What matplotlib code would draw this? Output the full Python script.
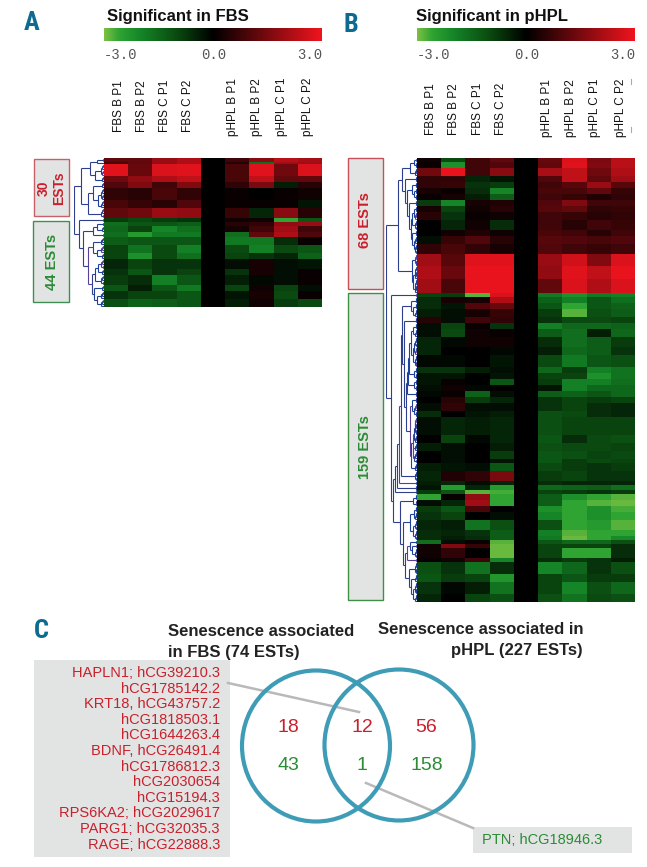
import numpy as np
import matplotlib
matplotlib.use("Agg")
import matplotlib.pyplot as plt
from matplotlib.colors import LinearSegmentedColormap
from matplotlib.collections import LineCollection
from matplotlib.patches import Rectangle, Ellipse

W, H = 647, 867
SANS = ["Liberation Sans", "DejaVu Sans"]
plt.rcParams["font.family"] = SANS

# ---------- data ----------
fbs_cols = ["FBS B P1", "FBS B P2", "FBS C P1", "FBS C P2"]
hpl_cols = ["pHPL B P1", "pHPL B P2", "pHPL C P1", "pHPL C P2"]

a_counts = [2, 1, 6, 3, 3, 6, 4, 5,
            2, 2, 3, 2, 4, 4, 3, 5, 3, 5, 3, 4, 4]
a_values = [
    [1.2, 1.2, 1.9, 2.2, 0.8, 1.7, 2.3, 2.1],
    [0.9, 1.2, 1.9, 2.2, 0.5, -1.6, 2.0, 2.0],
    [2.8, 1.3, 2.7, 2.8, 0.9, 2.8, 1.4, 2.7],
    [1.4, 1.8, 2.2, 2.4, 0.9, 2.4, 1.2, 1.2],
    [1.0, 1.6, 0.8, 1.6, 0.6, 1.5, -0.4, 0.5],
    [0.6, 0.5, 0.9, 0.6, 0.1, 0.0, 0.1, 0.2],
    [0.9, 0.7, 0.5, 1.0, 0.1, 0.1, 0.1, -0.3],
    [1.2, 1.4, 1.9, 1.8, 0.7, -0.5, 1.7, 0.5],
    [-0.8, -1.0, -0.8, -0.7, 0.2, 0.2, -2.6, -1.2],
    [-1.6, -1.2, -1.2, -1.3, 0.5, 0.6, 1.8, 1.9],
    [-1.5, -0.9, -2.0, -1.6, 0.3, 0.8, 2.0, 0.8],
    [-1.6, -2.4, -1.8, -1.8, -1.6, 1.2, 2.2, 1.0],
    [-1.3, -1.2, -1.2, -1.2, -1.8, -1.8, -0.6, 0.1],
    [-0.9, -1.7, -1.0, -1.9, -1.0, -1.9, -1.0, -1.2],
    [-0.9, -2.2, -1.0, -1.6, -0.9, -0.7, -0.5, -1.4],
    [-0.5, -0.9, -0.7, -0.7, -0.2, 0.3, -0.2, -0.3],
    [-0.7, -1.2, -0.7, -0.9, -0.7, 0.3, -0.2, 0.1],
    [-0.8, -0.6, -1.9, -1.2, -0.4, -0.1, -0.2, 0.1],
    [-1.2, -0.4, -1.2, -1.8, -0.9, 0.2, -0.9, -0.2],
    [-0.7, -0.9, -0.9, -1.2, -0.3, 0.3, -1.0, 0.1],
    [-1.1, -1.4, -1.3, -1.2, -0.4, 0.2, -0.8, -1.0],
]
a_group_sizes = [30, 44]

b_counts = [2, 3, 4, 3, 3, 3, 3, 3, 3, 4, 5, 3, 4, 5, 6, 7, 7,
            2, 3, 3, 4, 3, 3, 4, 5, 4, 6, 3, 3, 3, 3, 3, 3, 4, 3, 9, 4, 4, 4, 2, 4, 5,
            2, 3, 2, 3, 3, 3, 4, 5, 3, 2, 2, 2, 5, 2, 6, 4, 6, 4]
b_values = [
    [0.2, -1.0, 0.8, 1.2, 1.3, 2.7, 1.5, 2.3],
    [0.1, -2.2, 0.8, 1.0, 1.2, 2.8, 1.6, 2.3],
    [1.4, 2.9, 0.8, 1.7, 2.1, 2.4, 1.4, 2.2],
    [0.6, 0.6, -0.5, -0.3, 1.0, 2.4, 1.2, 2.0],
    [0.6, 0.7, -0.7, -0.8, 0.8, 1.1, 1.9, 1.1],
    [0.3, 0.1, -0.6, -2.0, 0.9, 0.9, 1.2, 0.7],
    [0.1, 0.3, -0.4, -1.3, 0.8, 0.7, 0.4, 0.6],
    [-0.8, -2.0, 0.3, 0.4, 1.0, 1.6, 0.8, 0.8],
    [0.3, -0.9, 0.2, 0.5, 1.1, 1.2, 0.6, 0.7],
    [0.5, -0.7, 0.1, 0.2, 0.8, 0.7, 0.5, 0.6],
    [0.0, -0.5, 0.2, -0.6, 0.8, 0.5, 0.8, 0.7],
    [0.0, 0.2, 0.4, 0.2, 0.9, 0.8, 0.5, 0.8],
    [-0.2, 0.7, 1.0, 0.5, 1.1, 1.0, 0.9, 1.0],
    [0.6, 0.9, 0.6, 0.3, 1.0, 0.8, 0.7, 0.8],
    [2.0, 1.1, 2.8, 2.8, 1.9, 2.6, 1.6, 2.7],
    [2.2, 1.3, 2.9, 2.9, 1.8, 2.8, 2.4, 2.9],
    [2.0, 0.9, 2.9, 2.9, 1.2, 2.7, 2.2, 2.7],
    [-0.9, -0.8, -2.8, 2.7, -1.8, -2.2, -1.8, -1.9],
    [-0.6, 0.3, 0.3, 2.2, -1.4, -1.9, -1.2, -1.6],
    [-0.6, -0.3, 1.0, 1.3, -1.2, -2.6, -1.2, -1.4],
    [-0.4, -0.2, 0.3, 0.7, -0.8, -2.8, -1.1, -1.3],
    [0.5, -0.2, 0.8, 0.6, -0.7, -1.0, -1.0, -0.9],
    [-0.2, -0.9, 0.1, -0.7, -1.9, -1.5, -1.5, -1.4],
    [-0.2, -1.0, 0.2, 0.1, -1.3, -1.6, -0.4, -1.5],
    [-0.5, -0.1, 0.2, 0.2, -0.6, -1.6, -1.3, -0.8],
    [-0.5, 0.0, 0.0, -0.1, -0.4, -1.5, -1.3, -0.7],
    [-0.1, -0.1, 0.0, -0.3, -1.0, -1.8, -1.2, -1.1],
    [-0.7, -0.7, -0.4, -0.2, -1.5, -0.8, -1.9, -1.7],
    [-0.3, -0.3, 0.0, -0.3, -0.9, -0.9, -2.2, -1.7],
    [-0.3, 0.1, 0.0, -1.2, -0.8, -1.9, -1.9, -1.6],
    [-0.2, 0.2, -0.1, 0.0, -0.3, -1.9, -1.5, -1.5],
    [-0.1, 0.1, -1.4, -0.2, -1.3, -1.4, -1.2, -1.5],
    [0.0, 0.5, -0.8, -0.5, -0.7, -0.9, -0.8, -0.9],
    [-0.2, 0.6, -0.2, -0.2, -0.7, -0.9, -0.6, -0.5],
    [-0.6, 0.0, -0.3, -0.4, -1.1, -1.0, -0.6, -0.5],
    [-0.2, -0.5, -0.4, -0.5, -1.1, -0.9, -0.9, -0.9],
    [0.0, -0.9, -0.1, -0.5, -1.2, -0.6, -1.0, -1.1],
    [-0.4, -0.2, 0.0, -0.4, -1.1, -1.0, -1.0, -0.9],
    [0.0, -0.2, 0.0, -0.8, -1.2, -1.1, -0.9, -1.0],
    [0.0, -0.2, 0.0, -0.3, -1.2, -0.8, -1.0, -0.9],
    [-0.4, -0.3, -0.2, -1.2, -1.0, -0.8, -0.7, -0.8],
    [-0.5, 0.4, 0.6, 1.5, -0.8, -0.9, -0.7, -0.7],
    [-0.4, -0.5, -0.2, -0.5, -0.6, -0.5, -0.5, -0.5],
    [-0.3, -2.4, -0.5, -2.4, -1.5, -1.4, -1.3, -1.6],
    [-0.8, -1.2, -2.8, -2.7, -0.9, -0.8, -0.7, -0.8],
    [-2.6, 0.1, 1.8, -2.6, -1.3, -2.2, -2.6, -2.8],
    [-0.2, -0.5, 2.0, -2.6, -1.3, -2.6, -2.8, -2.9],
    [-0.8, -1.2, 0.9, 0.0, -2.2, -2.6, -2.2, -2.7],
    [-0.7, -0.9, 0.0, -0.2, -2.0, -2.6, -2.2, -2.6],
    [-0.5, -0.4, -1.7, -1.1, -1.1, -2.6, -2.4, -2.8],
    [-0.6, -0.5, -0.7, -1.3, -1.9, -2.8, -2.6, -2.6],
    [-0.6, -0.4, -0.6, -1.3, -1.8, -2.9, -2.6, -2.1],
    [-1.6, -0.2, 0.1, -2.8, -1.2, -1.5, -1.5, -1.1],
    [0.2, 1.6, 0.7, -2.9, -0.9, -0.9, -0.9, -0.6],
    [0.2, 0.6, 0.0, -2.9, -0.9, -2.6, -2.6, -0.6],
    [0.1, 0.2, 0.8, -2.0, -0.6, -0.8, -0.7, -0.4],
    [-1.1, -0.7, -1.7, -0.6, -2.0, -1.5, -0.7, -1.1],
    [-1.2, -0.8, -0.9, -2.3, -0.9, -1.2, -0.8, -0.8],
    [-0.7, -0.1, -0.4, -1.7, -0.9, -2.0, -1.1, -1.5],
    [-0.5, 0.0, -0.9, -1.1, -1.1, -1.7, -1.0, -1.1],
]
b_group_sizes = [68, 159]

scale_ticks = [-3.0, 0.0, 3.0]
venn_counts_up = ["18", "12", "56"]
venn_counts_down = ["43", "1", "158"]
fbs_genes = ["HAPLN1; hCG39210.3", "hCG1785142.2", "KRT18, hCG43757.2", "hCG1818503.1",
             "hCG1644263.4", "BDNF, hCG26491.4", "hCG1786812.3", "hCG2030654",
             "hCG15194.3", "RPS6KA2; hCG2029617", "PARG1; hCG32035.3", "RAGE; hCG22888.3"]
hpl_gene = "PTN; hCG18946.3"

# ---------- styles ----------
cmap = LinearSegmentedColormap.from_list(
    "gbr", [(0.0, "#7cc043"), (0.4 / 6, "#2fa433"), (1 / 6, "#158528"), (1 / 3, "#0a4a10"),
            (0.5, "#000000"), (0.75, "#780a0f"), (1.0, "#f0141e")])
RED = "#c9202c"
GREEN = "#2b8c35"
BLUE = "#0f6a90"
TEAL = "#3f9cb6"
GREY = "#e2e3e3"

fig = plt.figure(figsize=(W / 100, H / 100), dpi=100, facecolor="white")
bg = fig.add_axes([0, 0, 1, 1])
bg.set_xlim(0, W)
bg.set_ylim(H, 0)
bg.axis("off")


def px_axes(x0, y0, x1, y1):
    ax = fig.add_axes([x0 / W, 1 - y1 / H, (x1 - x0) / W, (y1 - y0) / H])
    ax.set_xticks([])
    ax.set_yticks([])
    for s in ax.spines.values():
        s.set_visible(False)
    return ax


def tree_segments(rows):
    """Adjacency-constrained agglomeration of the rows: returns segments and root."""
    nodes = [dict(y=i + 0.5, h=0.0, m=rows[i].copy(), n=1) for i in range(len(rows))]
    segs = []
    while len(nodes) > 1:
        d = [np.abs(nodes[i]["m"] - nodes[i + 1]["m"]).mean() for i in range(len(nodes) - 1)]
        i = int(np.argmin(d))
        a, b = nodes[i], nodes[i + 1]
        h = max(a["h"], b["h"]) + 0.03 + 0.35 * d[i]
        segs.append((a["y"], a["h"], b["y"], b["h"], h))
        n = a["n"] + b["n"]
        nodes[i:i + 2] = [dict(y=(a["y"] + b["y"]) / 2, h=h,
                               m=(a["m"] * a["n"] + b["m"] * b["n"]) / n, n=n)]
    return segs, nodes[0]


def draw_dendro(x0, x1, y0, y1, rows, sizes):
    ax = px_axes(x0, y0, x1, y1)
    ax.set_ylim(len(rows), 0)
    ax.set_xlim(1, 0)
    ax.patch.set_alpha(0)
    start = 0
    parts = []
    for size in sizes:
        parts.append(tree_segments(rows[start:start + size]) + (start,))
        start += size
    hmax = max(p[1]["h"] for p in parts)
    f = lambda h: 0.85 * (h / hmax) ** 0.75
    lines, colors = [], []
    for segs, root, off in parts:
        for ya, ha, yb, hb, h in segs:
            lines += [[(f(ha), ya + off), (f(h), ya + off)],
                      [(f(hb), yb + off), (f(h), yb + off)],
                      [(f(h), ya + off), (f(h), yb + off)]]
            c = "#5a3f96" if int(ya) % 7 == 0 else ("#1d3f9e" if f(h) < 0.35 else "#2e3f8e")
            colors += [c, c, c]
    a, b = parts
    ya, yb = a[1]["y"] + a[2], b[1]["y"] + b[2]
    lines += [[(f(a[1]["h"]), ya), (1.0, ya)], [(f(b[1]["h"]), yb), (1.0, yb)], [(1.0, ya), (1.0, yb)]]
    colors += ["#2e3f8e"] * 3
    ax.add_collection(LineCollection(lines, colors=colors, linewidths=0.8))


def heat_panel(x0, x1, y0, y1, values, counts, sizes, dx0, title, title_x, lab_x_f, lab_x_h, lab_b_f, lab_b_h):
    rows = np.repeat(np.array(values, float), counts, axis=0)
    full = np.insert(rows, 4, 0.0, axis=1)
    ax = px_axes(x0, y0, x1, y1)
    ax.imshow(full, cmap=cmap, vmin=-3, vmax=3, aspect="auto", interpolation="nearest")
    draw_dendro(dx0, x0, y0, y1, rows, sizes)
    # scale bar
    cax = px_axes(x0, 27.5, x1, 41.5)
    cax.imshow(np.linspace(-3, 3, 256)[None, :], cmap=cmap, vmin=-3, vmax=3, aspect="auto",
               extent=[-3, 3, 0, 1])
    for v, ha, xp in zip(scale_ticks, ["left", "center", "right"], [x0, (x0 + x1) / 2 + 1, x1]):
        bg.text(xp, 55, f"{v:.1f}", ha=ha, va="center",
                family="Liberation Mono", fontsize=10, color="#555555")
    bg.text(title_x, 16, title, fontsize=12, fontweight="bold", color="#111111", va="center", ha="left")
    for name, xp in zip(fbs_cols, lab_x_f):
        bg.text(xp, lab_b_f, name, rotation=90, ha="center", va="bottom", fontsize=8.5, color="#111111")
    for name, xp in zip(hpl_cols, lab_x_h):
        bg.text(xp, lab_b_h, name, rotation=90, ha="center", va="bottom", fontsize=8.5, color="#111111")


heat_panel(104, 322, 158, 307, a_values, a_counts, a_group_sizes, 74, "Significant in FBS", 107,
           [119, 142, 165, 188], [233, 257, 282, 308], 132, 136)
heat_panel(417, 635, 158, 602, b_values, b_counts, b_group_sizes, 386, "Significant in pHPL", 416,
           [431, 454, 478, 501], [547, 571, 595, 621], 135, 137)

# small stray ticks at right of panel B labels
bg.plot([631, 631], [79, 84], color="#aaaaaa", lw=0.8)
bg.plot([631, 631], [127, 132], color="#aaaaaa", lw=0.8)

# group boxes
boxes = [(34, 159, 69, 216, "#c8606a"), (33, 221, 69, 302, "#3f8f55"),
         (348, 158, 383, 289, "#c8505a"), (348, 293, 383, 600, "#3f8f45")]
for xa, ya, xb, yb, ec in boxes:
    bg.add_patch(Rectangle((xa, ya), xb - xa, yb - ya, fc=GREY, ec=ec, lw=1.0))
bg.text(43.5, 188, "30", rotation=90, color=RED, fontweight="bold", fontsize=10, ha="center", va="center")
bg.text(59, 188, "ESTs", rotation=90, color=RED, fontweight="bold", fontsize=10, ha="center", va="center")
bg.text(52, 262, "44 ESTs", rotation=90, color=GREEN, fontweight="bold", fontsize=10.5, ha="center", va="center")
bg.text(365, 220, "68 ESTs", rotation=90, color=RED, fontweight="bold", fontsize=10.5, ha="center", va="center")
bg.text(365, 447, "159 ESTs", rotation=90, color=GREEN, fontweight="bold", fontsize=10.5, ha="center", va="center")

# panel letters
for s, xp, yp in [("A", 32, 23), ("B", 351, 25), ("C", 41, 631)]:
    bg.text(xp, yp, s, color=BLUE, fontsize=19, fontweight="bold", ha="center", va="center",
            family=["Roboto Condensed", "Open Sans Condensed", "Liberation Sans Narrow", "Liberation Sans"])

# panel C
bg.text(168, 631, "Senescence associated", fontsize=12, fontweight="bold", color="#222222", va="center")
bg.text(168, 652, "in FBS (74 ESTs)", fontsize=12, fontweight="bold", color="#222222", va="center")
bg.text(583, 630, "Senescence associated in", fontsize=12, fontweight="bold", color="#222222", va="center", ha="right")
bg.text(583, 651, "pHPL (227 ESTs)", fontsize=12, fontweight="bold", color="#222222", va="center", ha="right")

bg.add_patch(Rectangle((34, 660), 196, 197, fc=GREY, ec="none"))
bg.add_patch(Rectangle((473, 827), 159, 26, fc=GREY, ec="none"))
bg.plot([228, 359], [683, 712], color="#b9b9b9", lw=1.8, zorder=2)
bg.plot([366, 473], [783, 828], color="#b9b9b9", lw=1.8, zorder=2)
bg.add_patch(Ellipse((316, 746), 148, 151, fc="none", ec=TEAL, lw=3.0, zorder=3))
bg.add_patch(Ellipse((399, 745), 149, 151, fc="none", ec=TEAL, lw=3.0, zorder=3))
for s, xp in zip(venn_counts_up, [288, 362, 426]):
    bg.text(xp, 727, s, color=RED, fontsize=14, ha="center", va="center", zorder=4)
for s, xp in zip(venn_counts_down, [288, 362, 427]):
    bg.text(xp, 765, s, color=GREEN, fontsize=14, ha="center", va="center", zorder=4)
for k, g in enumerate(fbs_genes):
    bg.text(220, 673 + k * 15.6, g, color=RED, fontsize=10.5, ha="right", va="center", zorder=4)
bg.text(482, 840, hpl_gene, color=GREEN, fontsize=10.5, ha="left", va="center", zorder=4)

fig.savefig("out.png", dpi=100, facecolor="white")
